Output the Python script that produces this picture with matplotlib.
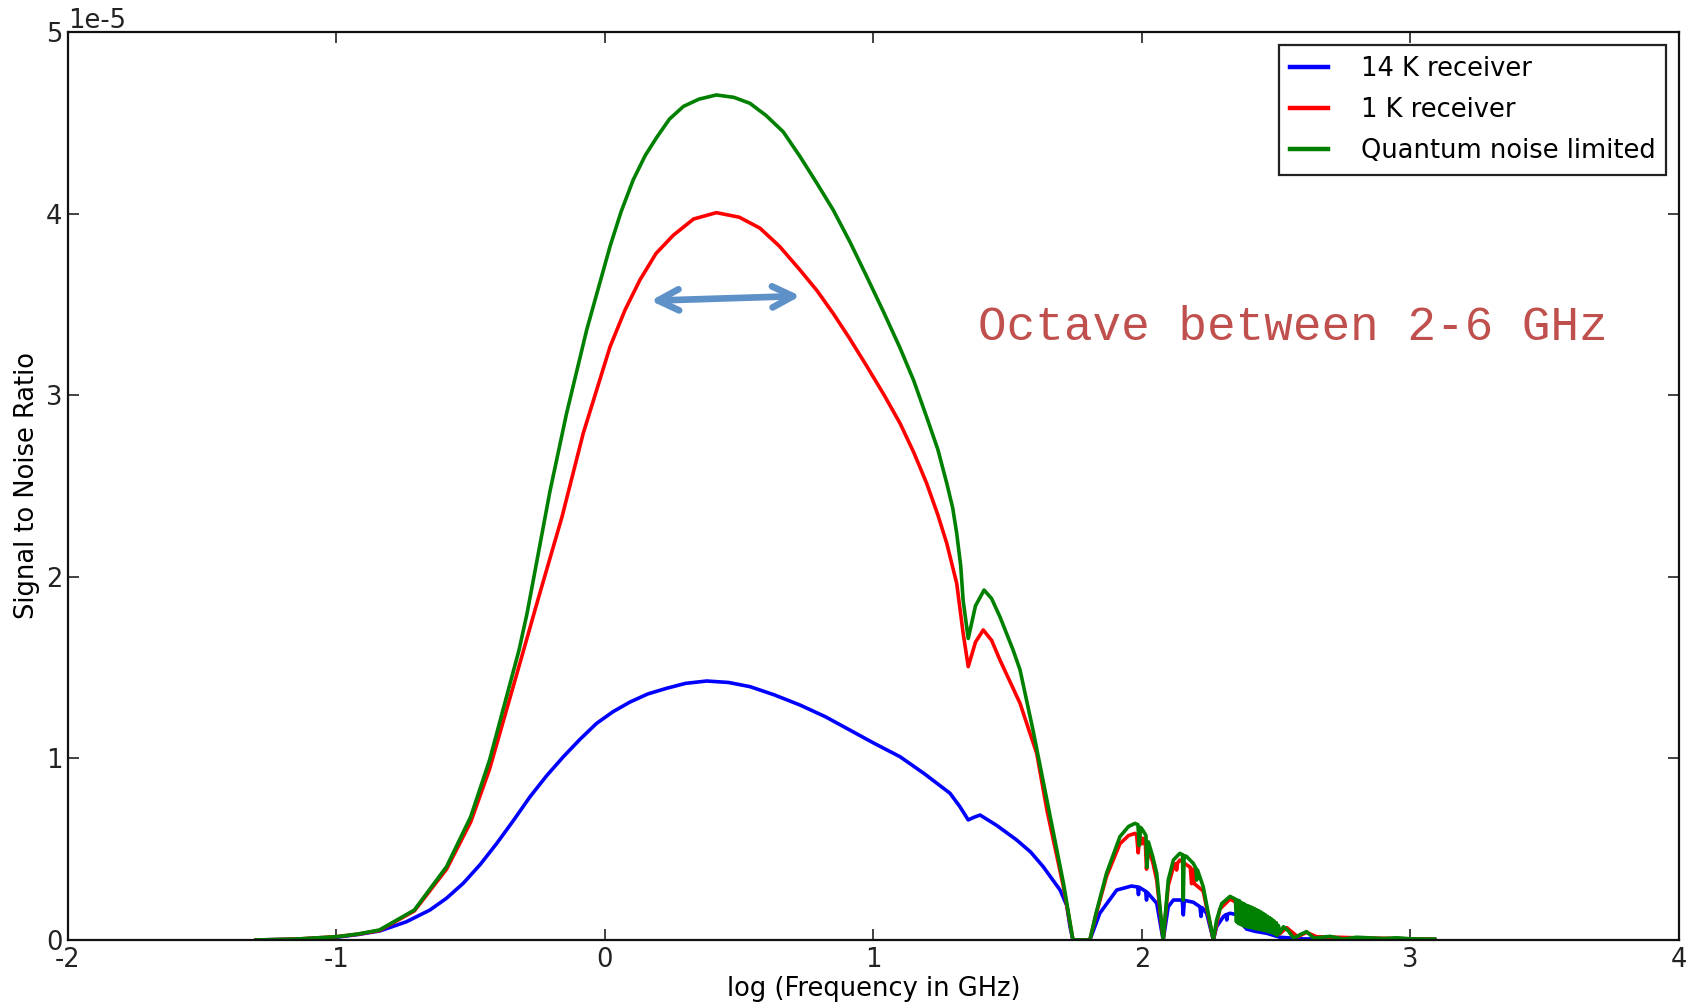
import numpy as np
import matplotlib
matplotlib.use("Agg")
import matplotlib.pyplot as plt

# log10 of frequency in GHz, and SNR in units of 1e-5
x_14k = [-1.30, -1.15, -1.00, -0.92, -0.838, -0.74, -0.652, -0.59, -0.528, -0.465,
         -0.403, -0.34, -0.279, -0.217, -0.155, -0.093, -0.031, 0.03, 0.093, 0.16,
         0.230, 0.30, 0.379, 0.46, 0.540, 0.63, 0.726, 0.82, 0.912, 1.00,
         1.099, 1.19, 1.285, 1.322, 1.353, 1.375, 1.397, 1.46, 1.533, 1.585,
         1.632, 1.695, 1.720, 1.732, 1.743, 1.806, 1.843, 1.906, 1.961, 1.984,
         1.987, 1.990, 2.014, 2.017, 2.020, 2.055, 2.079, 2.098, 2.117, 2.150,
         2.154, 2.158, 2.191, 2.216, 2.220, 2.224, 2.241, 2.266, 2.278, 2.303,
         2.313, 2.316, 2.319, 2.328, 2.359, 2.371, 2.390, 2.420, 2.464, 2.514,
         2.600, 2.700, 3.090]
snr_14k = [0.0, 0.004, 0.015, 0.030, 0.050, 0.100, 0.165, 0.230, 0.312, 0.415,
           0.532, 0.660, 0.789, 0.905, 1.009, 1.105, 1.193, 1.257, 1.310, 1.355,
           1.386, 1.413, 1.426, 1.418, 1.395, 1.350, 1.294, 1.230, 1.156, 1.085,
           1.009, 0.915, 0.808, 0.734, 0.661, 0.676, 0.688, 0.630, 0.551, 0.485,
           0.404, 0.275, 0.190, 0.073, 0.0, 0.0, 0.147, 0.275, 0.297, 0.292,
           0.250, 0.290, 0.268, 0.220, 0.262, 0.202, 0.0, 0.183, 0.220, 0.220,
           0.138, 0.218, 0.208, 0.183, 0.130, 0.178, 0.147, 0.0, 0.073, 0.128,
           0.140, 0.110, 0.142, 0.147, 0.138, 0.090, 0.060, 0.048, 0.037, 0.015,
           0.006, 0.004, 0.003]

x_1k = [-1.30, -1.15, -1.00, -0.92, -0.84, -0.71, -0.59, -0.50, -0.43, -0.37,
        -0.31, -0.25, -0.16, -0.081, 0.019, 0.075, 0.130, 0.19, 0.254, 0.33,
        0.415, 0.50, 0.577, 0.65, 0.726, 0.790, 0.850, 0.910, 0.975, 1.040,
        1.099, 1.150, 1.198, 1.240, 1.273, 1.310, 1.334, 1.353, 1.380, 1.409,
        1.440, 1.471, 1.546, 1.583, 1.608, 1.646, 1.708, 1.743, 1.806, 1.829,
        1.868, 1.918, 1.950, 1.974, 1.980, 1.986, 1.992, 2.000, 2.005, 2.013,
        2.017, 2.022, 2.040, 2.055, 2.079, 2.098, 2.117, 2.126, 2.129, 2.133,
        2.141, 2.180, 2.185, 2.190, 2.195, 2.228, 2.247, 2.266, 2.290, 2.328,
        2.402, 2.464, 2.514, 2.539, 2.580, 2.613, 2.650, 2.800, 3.090]
snr_1k = [0.0, 0.005, 0.018, 0.032, 0.052, 0.160, 0.390, 0.650, 0.940, 1.250,
          1.560, 1.872, 2.330, 2.790, 3.267, 3.470, 3.634, 3.780, 3.880, 3.970,
          4.005, 3.980, 3.920, 3.820, 3.690, 3.575, 3.450, 3.315, 3.160, 3.000,
          2.845, 2.685, 2.515, 2.340, 2.184, 1.964, 1.690, 1.505, 1.640, 1.707,
          1.650, 1.542, 1.303, 1.138, 1.028, 0.716, 0.290, 0.0, 0.0, 0.140,
          0.350, 0.530, 0.575, 0.587, 0.580, 0.480, 0.570, 0.530, 0.560, 0.520,
          0.390, 0.500, 0.430, 0.330, 0.0, 0.300, 0.400, 0.420, 0.385, 0.425,
          0.440, 0.400, 0.310, 0.390, 0.310, 0.270, 0.135, 0.0, 0.170, 0.225,
          0.170, 0.120, 0.035, 0.068, 0.018, 0.042, 0.018, 0.012, 0.004]

x_qnl = [-1.30, -1.15, -1.00, -0.92, -0.84, -0.71, -0.59, -0.50, -0.43, -0.37,
         -0.32, -0.29, -0.205, -0.143, -0.068, 0.019, 0.060, 0.105, 0.150, 0.193,
         0.240, 0.292, 0.350, 0.415, 0.480, 0.540, 0.600, 0.664, 0.726, 0.788,
         0.850, 0.912, 0.975, 1.037, 1.099, 1.150, 1.198, 1.240, 1.273, 1.295,
         1.310, 1.325, 1.334, 1.353, 1.380, 1.412, 1.440, 1.471, 1.520, 1.546,
         1.595, 1.658, 1.708, 1.743, 1.806, 1.829, 1.868, 1.918, 1.950, 1.974,
         1.985, 1.990, 1.995, 2.005, 2.015, 2.019, 2.024, 2.040, 2.055, 2.079,
         2.098, 2.117, 2.141, 2.151, 2.154, 2.157, 2.166, 2.191, 2.201, 2.204,
         2.207, 2.228, 2.247, 2.266, 2.278, 2.297, 2.328, 2.348, 2.352, 2.356,
         2.360, 2.364, 2.368, 2.372, 2.376, 2.380, 2.384, 2.388, 2.392, 2.396,
         2.400, 2.404, 2.408, 2.412, 2.416, 2.420, 2.424, 2.428, 2.432, 2.436,
         2.440, 2.444, 2.448, 2.452, 2.456, 2.460, 2.464, 2.468, 2.472, 2.476,
         2.480, 2.484, 2.488, 2.492, 2.496, 2.500, 2.504, 2.508, 2.514, 2.527,
         2.545, 2.565, 2.590, 2.613, 2.640, 2.700, 2.750, 2.800, 2.900, 2.950,
         3.000, 3.090]
snr_qnl = [0.0, 0.005, 0.018, 0.033, 0.055, 0.165, 0.404, 0.679, 0.990, 1.320,
           1.597, 1.800, 2.470, 2.900, 3.360, 3.820, 4.010, 4.185, 4.320, 4.420,
           4.520, 4.590, 4.630, 4.653, 4.640, 4.607, 4.540, 4.450, 4.315, 4.170,
           4.020, 3.845, 3.653, 3.460, 3.260, 3.080, 2.880, 2.700, 2.515, 2.380,
           2.240, 2.060, 1.870, 1.660, 1.840, 1.927, 1.880, 1.780, 1.597, 1.487,
           1.150, 0.680, 0.310, 0.0, 0.0, 0.147, 0.367, 0.569, 0.625, 0.642,
           0.635, 0.520, 0.620, 0.600, 0.575, 0.400, 0.540, 0.460, 0.367, 0.0,
           0.330, 0.440, 0.477, 0.470, 0.220, 0.465, 0.460, 0.422, 0.395, 0.330,
           0.385, 0.294, 0.147, 0.0, 0.110, 0.200, 0.240, 0.225, 0.100, 0.220,
           0.090, 0.215, 0.085, 0.205, 0.080, 0.200, 0.075, 0.192, 0.072, 0.188,
           0.070, 0.183, 0.068, 0.178, 0.065, 0.172, 0.062, 0.166, 0.060, 0.160,
           0.058, 0.153, 0.055, 0.146, 0.052, 0.138, 0.050, 0.130, 0.046, 0.122,
           0.042, 0.114, 0.038, 0.105, 0.032, 0.095, 0.026, 0.080, 0.040, 0.073,
           0.050, 0.010, 0.030, 0.046, 0.010, 0.020, 0.005, 0.015, 0.008, 0.012,
           0.006, 0.005]

x_ticks = [-2, -1, 0, 1, 2, 3, 4]
y_ticks = [0, 1, 2, 3, 4, 5]
scale = 1e-5

fs = 18.5
plt.rcParams["font.family"] = ["DejaVu Sans"]
plt.rcParams["axes.unicode_minus"] = False

fig = plt.figure(figsize=(17, 10.05), dpi=100)
ax = fig.add_axes([0.04, 0.0647, 0.9476, 0.9035])

ax.plot(x_14k, np.array(snr_14k) * scale, color="#0000ff", lw=2.6, label="14 K receiver")
ax.plot(x_1k, np.array(snr_1k) * scale, color="#ff0000", lw=2.6, label="1 K receiver")
ax.plot(x_qnl, np.array(snr_qnl) * scale, color="#008000", lw=2.6, label="Quantum noise limited")

ax.set_xlim(-2, 4)
ax.set_ylim(0, 5 * scale)
ax.set_xticks(x_ticks)
ax.set_yticks(np.array(y_ticks) * scale)
ax.tick_params(direction="in", top=True, right=True, length=8, width=1.2,
               labelsize=fs, colors="#222222")
ax.tick_params(axis="x", pad=5)
ax.tick_params(axis="y", pad=4)
ax.yaxis.get_offset_text().set_fontsize(fs)
for sp in ax.spines.values():
    sp.set_linewidth(1.6)
    sp.set_color("#111111")

ax.set_xlabel("log (Frequency in GHz)", fontsize=fs, labelpad=2)
ax.set_ylabel("Signal to Noise Ratio", fontsize=fs, labelpad=4)

leg = ax.legend(loc="upper right", fontsize=fs, fancybox=False, framealpha=1,
                edgecolor="#222222", borderaxespad=0.5, handlelength=1.5,
                handletextpad=1.25, labelspacing=0.6, borderpad=0.42)
leg.get_frame().set_linewidth(1.6)
for line in leg.get_lines():
    line.set_linewidth(3.2)

ax.annotate("", xy=(0.728, 3.546 * scale), xytext=(0.170, 3.52 * scale),
            arrowprops=dict(arrowstyle="<->,head_length=0.75,head_width=0.38",
                            color="#5e91c8", lw=4.8, mutation_scale=20,
                            shrinkA=0, shrinkB=0, capstyle="round", joinstyle="round"))

ax.text(1.389, 3.375 * scale, "Octave between 2-6 GHz", family="Liberation Mono",
        fontsize=34.3, color="#c0504d", ha="left", va="center")

fig.savefig("out.png", dpi=100)
